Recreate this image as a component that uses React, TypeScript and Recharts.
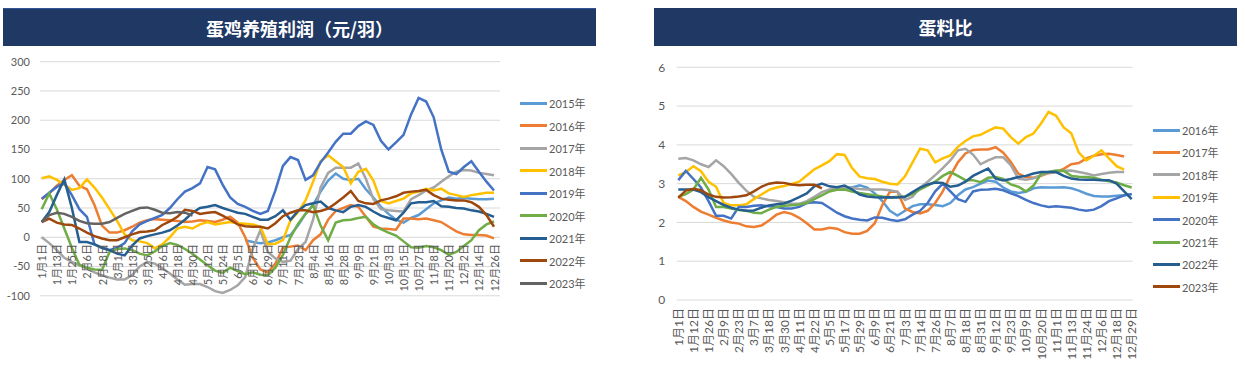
import { LineChart, Line, XAxis, YAxis, CartesianGrid } from 'recharts';

// tick labels (every other category carries a label)
const leftTicks = ['1月1日', '1月13日', '1月25日', '2月6日', '2月18日', '3月1日', '3月13日', '3月25日', '4月6日', '4月18日', '4月30日', '5月12日', '5月24日', '6月5日', '6月17日', '6月29日', '7月11日', '7月23日', '8月4日', '8月16日', '8月28日', '9月9日', '9月21日', '10月3日', '10月15日', '10月27日', '11月8日', '11月20日', '12月2日', '12月14日', '12月26日'];
const rightTicks = ['1月1日', '1月12日', '1月26日', '2月9日', '2月23日', '3月7日', '3月18日', '3月30日', '4月11日', '4月22日', '5月5日', '5月17日', '5月29日', '6月9日', '6月21日', '7月3日', '7月14日', '7月26日', '8月7日', '8月18日', '8月31日', '9月12日', '9月23日', '10月9日', '10月20日', '11月1日', '11月13日', '11月24日', '12月6日', '12月18日', '12月29日'];

const _ = null;

// 蛋鸡养殖利润 (元/羽)
const p2015 = [_, _, _, _, _, _, _, _, _, _, _, _, _, _, _, _, _, _, _, _, _, _, _, _, _, _, _, -5, -8, -10,
  -9, -5, 0, 4, 20, 40, 55, 78, 97, 109, 100, 98, 100, 82, 68, 52, 40, 30, 25, 33,
  38, 48, 58, 63, 68, 66, 67, 66, 65, 65, 66];
const p2016 = [65, 75, 88, 98, 106, 88, 82, 55, 20, 8, 8, 12, 18, 25, 29, 31, 30, 29, 28, 26,
  27, 29, 28, 26, 30, 35, 25, 0, -35, -55, -60, -45, -18, -16, -14, -22, -5, 5, 30, 45,
  50, 55, 52, 35, 18, 15, 14, 13, 32, 32, 31, 32, 29, 26, 18, 10, 5, 4, 4, 3, -2];
const p2017 = [0, -10, -22, -35, -42, -48, -53, -60, -65, -69, -72, -72, -65, -50, -42, -45, -53, -62, -72, -81,
  -80, -80, -85, -92, -95, -90, -82, -68, -20, 12, -25, -36, -42, -40, -20, -8, 30, 85, 110, 119,
  119, 119, 126, 100, 65, 48, 46, 45, 44, 65, 72, 80, 85, 95, 104, 112, 115, 114, 110, 108, 106];
const p2018 = [101, 104, 98, 90, 81, 84, 99, 85, 68, 48, 28, 5, -5, -7, -10, -19, -12, 0, 15, 18,
  15, 22, 26, 22, 24, 26, 24, 23, 22, 18, -12, -11, -5, 29, 43, 63, 95, 130, 140, 130,
  120, 92, 112, 117, 97, 62, 58, 62, 66, 75, 78, 83, 80, 83, 75, 72, 69, 72, 74, 76, 76];
const p2019 = [66, 76, 86, 92, 72, 48, 35, -12, -18, -22, -18, -10, 10, 22, 28, 33, 38, 50, 65, 78,
  84, 92, 120, 116, 90, 68, 57, 52, 45, 40, 45, 80, 122, 137, 132, 98, 106, 128, 145, 163,
  177, 177, 190, 198, 192, 165, 150, 162, 175, 210, 238, 232, 205, 150, 112, 108, 120, 130, 112, 95, 80];
const p2020 = [48, 75, 48, 15, -18, -47, -52, -55, -56, -25, -20, -19, -22, -28, -31, -24, -15, -10, -13, -20,
  -28, -38, -48, -57, -61, -52, -58, -63, -60, -64, -65, -52, -30, 0, 23, 40, 55, 20, -5, 25,
  29, 30, 33, 35, 22, 14, 8, 3, -7, -17, -18, -15, -17, -22, -30, -25, -15, -5, 12, 22, 27];
const p2021 = [26, 43, 72, 99, 50, -8, -8, -12, -18, -22, -28, -31, -14, -2, 2, 5, 8, 12, 20, 30,
  42, 50, 52, 55, 50, 46, 42, 40, 35, 30, 30, 36, 46, 30, 45, 55, 58, 61, 50, 46,
  43, 52, 55, 52, 44, 37, 33, 29, 42, 58, 60, 60, 62, 53, 52, 50, 49, 46, 44, 40, 35];
const p2022 = [26, 32, 25, 22, 21, 15, 8, 2, -2, -5, -5, 0, 5, 9, 10, 12, 21, 27, 35, 47,
  45, 40, 42, 43, 37, 30, 22, 19, 18, 18, 15, 24, 36, 42, 46, 46, 43, 45, 49, 58,
  68, 79, 62, 58, 57, 63, 66, 70, 76, 78, 79, 81, 72, 66, 64, 63, 63, 60, 52, 38, 18];
const p2023 = [26, 38, 42, 40, 35, 28, 24, 23, 23, 26, 33, 40, 45, 50, 51, 47, 42, 41, 43, 42, 37,
  _, _, _, _, _, _, _, _, _, _, _, _, _, _, _, _, _, _, _, _, _, _, _, _, _, _, _, _, _, _, _, _, _, _, _, _, _, _, _, _];

// 蛋料比
const r2016 = [_, _, _, _, _, _, _, _, _, _, _, _, _, _, _, _, _, _, _, _, _, _,
  2.9, 2.9, 2.96, 2.9, 2.75, 2.55, 2.3, 2.18, 2.3, 2.42, 2.47, 2.47, 2.45, 2.42, 2.5, 2.7, 2.85, 2.91,
  3.0, 3.08, 3.05, 2.9, 2.8, 2.76, 2.79, 2.88, 2.91, 2.9, 2.9, 2.91, 2.88, 2.82, 2.74, 2.68, 2.67, 2.67, 2.69, 2.7, 2.73];
const r2017 = [2.66, 2.55, 2.4, 2.28, 2.2, 2.12, 2.05, 2.0, 1.97, 1.9, 1.88, 1.92, 2.05, 2.2, 2.27, 2.22, 2.12, 1.98, 1.82, 1.82,
  1.86, 1.84, 1.75, 1.71, 1.71, 1.78, 1.98, 2.45, 2.79, 2.79, 2.36, 2.27, 2.23, 2.3, 2.5, 2.8, 3.2, 3.55, 3.78, 3.87,
  3.88, 3.88, 3.94, 3.8, 3.56, 3.26, 3.17, 3.15, 3.2, 3.27, 3.3, 3.38, 3.5, 3.53, 3.65, 3.72, 3.76, 3.77, 3.74, 3.7, _];
const r2018 = [3.64, 3.66, 3.6, 3.5, 3.43, 3.6, 3.45, 3.25, 3.02, 2.82, 2.66, 2.62, 2.58, 2.55, 2.52, 2.48, 2.48, 2.55, 2.66, 2.78,
  2.85, 2.87, 2.88, 2.89, 2.86, 2.85, 2.85, 2.85, 2.83, 2.79, 2.58, 2.66, 2.9, 3.05, 3.22, 3.4, 3.6, 3.86, 3.9, 3.75,
  3.5, 3.6, 3.68, 3.68, 3.48, 3.13, 3.1, 3.14, 3.22, 3.28, 3.3, 3.33, 3.34, 3.3, 3.26, 3.21, 3.25, 3.28, 3.3, 3.3, _];
const r2019 = [3.21, 3.3, 3.45, 3.32, 3.05, 2.92, 2.5, 2.44, 2.44, 2.47, 2.6, 2.72, 2.84, 2.9, 2.94, 2.99, 3.05, 3.21, 3.37, 3.47,
  3.58, 3.76, 3.74, 3.4, 3.18, 3.14, 3.12, 3.05, 3.0, 2.98, 3.19, 3.55, 3.9, 3.86, 3.55, 3.65, 3.73, 3.95, 4.1, 4.22,
  4.26, 4.36, 4.45, 4.42, 4.2, 4.03, 4.2, 4.29, 4.55, 4.85, 4.75, 4.45, 4.3, 3.8, 3.6, 3.72, 3.86, 3.65, 3.45, 3.36, _];
const r2020 = [3.09, 3.33, 3.12, 2.9, 2.55, 2.17, 2.17, 2.1, 2.4, 2.4, 2.43, 2.44, 2.42, 2.4, 2.36, 2.36, 2.4, 2.5, 2.52, 2.5,
  2.38, 2.25, 2.16, 2.1, 2.07, 2.05, 2.13, 2.12, 2.07, 2.04, 2.08, 2.2, 2.3, 2.5, 2.8, 3.0, 2.8, 2.6, 2.53, 2.8,
  2.84, 2.85, 2.87, 2.83, 2.75, 2.68, 2.58, 2.5, 2.44, 2.4, 2.42, 2.4, 2.38, 2.33, 2.3, 2.33, 2.42, 2.55, 2.62, 2.7, 2.73];
const r2021 = [2.66, 2.73, 2.85, 3.15, 2.85, 2.4, 2.4, 2.36, 2.32, 2.3, 2.25, 2.24, 2.33, 2.4, 2.43, 2.44, 2.46, 2.5, 2.6, 2.7,
  2.8, 2.84, 2.85, 2.8, 2.76, 2.73, 2.7, 2.67, 2.64, 2.66, 2.67, 2.73, 2.85, 2.95, 3.05, 3.2, 3.3, 3.2, 3.09, 3.09,
  3.04, 3.15, 3.17, 3.12, 2.98, 2.92, 2.8, 2.95, 3.25, 3.3, 3.34, 3.33, 3.2, 3.18, 3.17, 3.15, 3.1, 3.06, 3.03, 2.96, 2.9];
const r2022 = [2.85, 2.85, 2.85, 2.78, 2.65, 2.55, 2.45, 2.38, 2.33, 2.3, 2.31, 2.38, 2.44, 2.47, 2.49, 2.56, 2.65, 2.75, 2.93, 3.0,
  2.93, 2.91, 2.95, 2.85, 2.72, 2.67, 2.65, 2.64, 2.65, 2.64, 2.66, 2.78, 2.9, 2.98, 3.03, 3.02, 2.92, 2.95, 3.05, 3.2,
  3.3, 3.39, 3.13, 3.08, 3.12, 3.17, 3.2, 3.26, 3.3, 3.3, 3.3, 3.2, 3.13, 3.11, 3.1, 3.1, 3.09, 3.09, 3.0, 2.8, 2.6];
const r2023 = [2.64, 2.82, 2.87, 2.83, 2.72, 2.66, 2.64, 2.65, 2.67, 2.7, 2.8, 2.92, 3.0, 3.03, 3.02, 2.98, 2.96, 2.97, 2.97, 2.88,
  _, _, _, _, _, _, _, _, _, _, _, _, _, _, _, _, _, _, _, _, _, _, _, _, _, _, _, _, _, _, _, _, _, _, _, _, _, _, _, _, _];

const leftSeries = [
  { name: '2015年', color: '#5B9BD5', values: p2015 },
  { name: '2016年', color: '#ED7D31', values: p2016 },
  { name: '2017年', color: '#A5A5A5', values: p2017 },
  { name: '2018年', color: '#FFC000', values: p2018 },
  { name: '2019年', color: '#4472C4', values: p2019 },
  { name: '2020年', color: '#70AD47', values: p2020 },
  { name: '2021年', color: '#255E91', values: p2021 },
  { name: '2022年', color: '#9E480E', values: p2022 },
  { name: '2023年', color: '#636363', values: p2023 },
];
const rightSeries = [
  { name: '2016年', color: '#5B9BD5', values: r2016 },
  { name: '2017年', color: '#ED7D31', values: r2017 },
  { name: '2018年', color: '#A5A5A5', values: r2018 },
  { name: '2019年', color: '#FFC000', values: r2019 },
  { name: '2020年', color: '#4472C4', values: r2020 },
  { name: '2021年', color: '#70AD47', values: r2021 },
  { name: '2022年', color: '#255E91', values: r2022 },
  { name: '2023年', color: '#9E480E', values: r2023 },
];

const FONT = 'Lato, "Noto Sans CJK SC", sans-serif';
const GREY = '#595959';

const toRows = (series: { name: string; values: (number | null)[] }[]) =>
  series[0].values.map((_v, i) => {
    const row: Record<string, number | null> = { i };
    series.forEach((s) => { row[s.name] = s.values[i]; });
    return row;
  });

const leftData = toRows(leftSeries);
const rightData = toRows(rightSeries);

// vertical date labels, hung from a fixed line
const dateTick = (labels: string[], top: number, size: number) => (props: any) => {
  const { x, payload } = props;
  const idx = Number(payload.value);
  if (idx % 2 !== 0) return <g />;
  return (
    <text transform={`translate(${x},${top}) rotate(-90)`} textAnchor="end" dominantBaseline="central"
      fontSize={size} fill={GREY} fontFamily={FONT}>
      {labels[idx / 2]}
    </text>
  );
};

const TitleBar = ({ left, width, text, border }: { left: number; width: number; text: string; border?: boolean }) => (
  <div style={{
    position: 'absolute', left, top: 8, width, height: 38, background: '#203864',
    borderTop: border ? '1px solid #2F5597' : undefined, boxSizing: 'border-box',
    color: '#fff', fontWeight: 700, fontSize: 18, fontFamily: '"Noto Sans CJK SC", sans-serif',
    display: 'flex', alignItems: 'center', justifyContent: 'center',
  }}>{text}</div>
);

const Legend = ({ series, left, top, step }: { series: { name: string; color: string }[]; left: number; top: number; step: number }) => (
  <>
    {series.map((s, k) => (
      <div key={s.name} style={{ position: 'absolute', left, top: top + k * step - 8, height: 16, display: 'flex', alignItems: 'center' }}>
        <div style={{ width: 27, height: 3, background: s.color }} />
        <span style={{ marginLeft: 2, fontSize: 11, color: GREY, fontFamily: FONT }}>{s.name}</span>
      </div>
    ))}
  </>
);

export default function App() {
  return (
    <div style={{ position: 'absolute', left: 0, top: 0, width: 1245, height: 377, background: '#fff', overflow: 'hidden' }}>
      <TitleBar left={3} width={593} text="蛋鸡养殖利润（元/羽）" border />
      <TitleBar left={654} width={583} text="蛋料比" />

      <div style={{ position: 'absolute', left: 0, top: 0 }}>
        <LineChart width={510} height={377} data={leftData} margin={{ top: 61.7, right: 10, bottom: 80.2, left: 0 }}>
          <CartesianGrid vertical={false} stroke="#D9D9D9" />
          <XAxis dataKey="i" type="category" interval={1} height={1} axisLine={false} tickLine={false}
            padding={{ left: 1.7, right: 6 }} tick={dateTick(leftTicks, 244, 11)} />
          <YAxis domain={[-100, 300]} ticks={[-100, -50, 0, 50, 100, 150, 200, 250, 300]} width={40}
            axisLine={false} tickLine={false} tickSize={0} tickMargin={10}
            tick={{ fontSize: 11, fill: GREY, fontFamily: FONT }} />
          {leftSeries.map((s) => (
            <Line key={s.name} dataKey={s.name} stroke={s.color} strokeWidth={2.5} dot={false}
              type="linear" isAnimationActive={false} />
          ))}
        </LineChart>
      </div>
      <Legend series={leftSeries} left={520} top={103.3} step={22.5} />

      <div style={{ position: 'absolute', left: 640, top: 0 }}>
        <LineChart width={505} height={377} data={rightData} margin={{ top: 67.3, right: 12.3, bottom: 76, left: 0 }}>
          <CartesianGrid vertical={false} stroke="#D9D9D9" />
          <XAxis dataKey="i" type="category" interval={1} height={1} axisLine={false} tickLine={false}
            padding={{ left: 1.6, right: 1 }} tick={dateTick(rightTicks, 308, 12)} />
          <YAxis domain={[0, 6]} ticks={[0, 1, 2, 3, 4, 5, 6]} width={36.7}
            axisLine={false} tickLine={false} tickSize={0} tickMargin={11.5}
            tick={{ fontSize: 12, fill: GREY, fontFamily: FONT }} />
          {rightSeries.map((s) => (
            <Line key={s.name} dataKey={s.name} stroke={s.color} strokeWidth={2.5} dot={false}
              type="linear" isAnimationActive={false} />
          ))}
        </LineChart>
      </div>
      <Legend series={rightSeries} left={1153} top={130} step={22.4} />
    </div>
  );
}
